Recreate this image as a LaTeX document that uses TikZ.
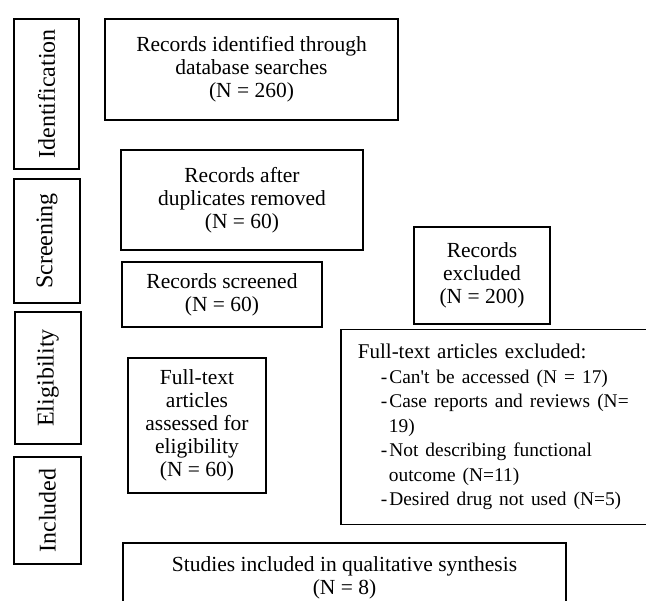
\documentclass[tikz,border=0pt]{standalone}
\usepackage{fontspec}
\setmainfont{Liberation Serif}
\usepackage{tikz}

\begin{document}
\begin{tikzpicture}[
    x=1pt, y=-1pt,
    box/.style={rectangle, draw, line width=1.8pt, align=center, inner sep=2pt,
      font=\fontsize{21.5}{23}\selectfont},
    stage/.style={box, rotate=90, font=\fontsize{24}{26}\selectfont}
  ]
  \useasboundingbox (0,0) rectangle (646,601);
  \clip (0,0) rectangle (646,601);

  % Stage labels
  \node[stage, minimum width=150pt, minimum height=65pt] (ident) at (46.5,94) {Identification};
  \node[stage, minimum width=124pt, minimum height=66pt] (screen) at (47,241) {Screening};
  \node[stage, minimum width=132pt, minimum height=66pt] (elig) at (48,378) {Eligibility};
  \node[stage, minimum width=107pt, minimum height=67pt] (incl) at (47.5,510.5) {Included};

  % Main flow
  \node[box, minimum width=293pt, minimum height=101pt] (found) at (251.5,69.5)
    {Records identified through\\database searches\\(N = 260)};
  \node[box, minimum width=242pt, minimum height=100pt] (dedup) at (242,200)
    {Records after\\duplicates removed\\(N = 60)};
  \node[box, minimum width=200pt, minimum height=65pt] (screened) at (222,294.5)
    {Records screened\\(N = 60)};
  \node[box, minimum width=138pt, minimum height=135pt] (assessed) at (197,425.5)
    {Full-text\\articles\\assessed for\\eligibility\\(N = 60)};
  \node[box, minimum width=443pt, minimum height=70pt] (studies) at (344.5,578)
    {Studies included in qualitative synthesis\\(N = 8)};

  % Exclusions
  \node[box, minimum width=136pt, minimum height=97pt] (excl) at (482,275.5)
    {Records\\excluded\\(N = 200)};
  \node[box, anchor=west, align=left, text width=300pt, inner xsep=17pt,
    minimum height=195pt, font=\fontsize{21}{24.5}\selectfont] (ftexcl) at (340,427)
    {Full-text articles excluded:\\
     \fontsize{19.4}{24.5}\selectfont
     \hspace*{23pt}-\hspace{2pt}Can\textquotesingle t be accessed (N = 17)\\
     \hspace*{23pt}-\hspace{2pt}Case reports and reviews (N=\\
     \hspace*{31pt}19)\\
     \hspace*{23pt}-\hspace{2pt}Not describing functional\\
     \hspace*{31pt}outcome (N=11)\\
     \hspace*{23pt}-\hspace{2pt}Desired drug not used (N=5)};

\end{tikzpicture}
\end{document}
